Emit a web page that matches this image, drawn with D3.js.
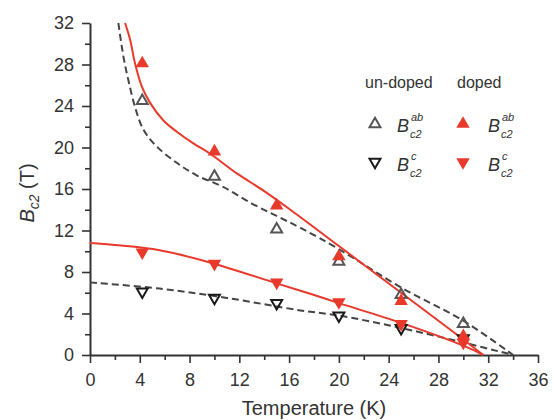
<!DOCTYPE html>
<html><head><meta charset="utf-8">
<script src="https://cdn.jsdelivr.net/npm/d3@7"></script>
<style>body{margin:0;background:#fff;} svg{display:block;font-family:"Liberation Sans",Arial,sans-serif;}</style>
</head><body>
<svg id="chart" width="554" height="420"></svg>
<script>
// ---- data ----
const temps = [4.2, 10, 15, 20, 25, 30];
const undopedAb = [24.6, 17.3, 12.2, 9.1, 5.9, 3.1];
const dopedAb   = [28.2, 19.7, 14.5, 9.6, 5.3, 1.9];
const undopedC  = [6.0, 5.4, 4.9, 3.7, 2.5, 1.5];
const dopedC    = [9.8, 8.7, 6.9, 5.0, 2.9, 1.1];

// fitted curves
const dopedAbFitT = [2.82, 3.22, 3.62, 4.16, 4.83, 5.9, 7.0, 8.3, 9.66, 11.8, 14, 16.1, 20, 25, 30, 31.6];
const dopedAbFitB = [32, 30.4, 28.1, 25.9, 24.3, 22.6, 21.5, 20.4, 19.4, 17.5, 15.8, 14.0, 10.5, 6.0, 1.5, 0];
const undopedAbFitT = [2.28, 2.68, 3.08, 3.62, 4.3, 5.36, 7.0, 8.6, 10.7, 13, 15, 17, 20, 25, 30, 34];
const undopedAbFitB = [32, 28.8, 26.5, 23.9, 21.7, 20.1, 18.5, 17.3, 16.2, 14.6, 13.4, 12.2, 10.2, 6.5, 3.3, 0];
const dopedCFitT = [0, 2, 5.6, 9.7, 15, 17.7, 20, 25, 30, 31.6];
const dopedCFitB = [10.8, 10.6, 10.1, 8.9, 6.9, 5.9, 5.0, 3.1, 0.9, 0];
const undopedCFitT = [0, 5.6, 11, 16.9, 20, 25, 30, 34];
const undopedCFitB = [7.0, 6.4, 5.5, 4.3, 3.8, 2.6, 1.2, 0];

const xTicks = [0, 4, 8, 12, 16, 20, 24, 28, 32, 36];
const yTicks = [0, 4, 8, 12, 16, 20, 24, 28, 32];
const xMinor = [2, 6, 10, 14, 18, 22, 26, 30, 34];
const yMinor = [2, 6, 10, 14, 18, 22, 26, 30];

// ---- drawing ----
const RED = "#e8392b", DASH = "#454545", AX = "#333";
const svg = d3.select("#chart");
const x = d3.scaleLinear().domain([0, 36]).range([90, 538]);
const y = d3.scaleLinear().domain([0, 32]).range([355, 23]);

// axes
const gx = svg.append("g").attr("transform", "translate(0,355)")
  .call(d3.axisBottom(x).tickValues(xTicks).tickSize(8).tickSizeOuter(0).tickPadding(10));
const gxm = svg.append("g").attr("transform", "translate(0,355)")
  .call(d3.axisBottom(x).tickValues(xMinor).tickSize(5).tickFormat("").tickSizeOuter(0));
const gy = svg.append("g").attr("transform", "translate(90,0)")
  .call(d3.axisLeft(y).tickValues(yTicks).tickSize(8).tickSizeOuter(0).tickPadding(8));
const gym = svg.append("g").attr("transform", "translate(90,0)")
  .call(d3.axisLeft(y).tickValues(yMinor).tickSize(5).tickFormat("").tickSizeOuter(0));
[gx, gxm, gy, gym].forEach(g => {
  g.selectAll("path").attr("stroke", AX).attr("stroke-width", 2);
  g.selectAll("line").attr("stroke", AX).attr("stroke-width", 1.6);
  g.selectAll("text").attr("font-size", 18).attr("fill", AX).attr("font-family", "Liberation Sans, Arial, sans-serif");
});
gxm.select("path").remove(); gym.select("path").remove();

// curves
const zip = (a, b) => a.map((v, i) => [v, b[i]]);
const line = d3.line().x(d => x(d[0])).y(d => y(d[1])).curve(d3.curveCatmullRom.alpha(0.5));

svg.append("path").attr("d", line(zip(undopedAbFitT, undopedAbFitB)))
  .attr("fill", "none").attr("stroke", DASH).attr("stroke-width", 2).attr("stroke-dasharray", "7,4");
svg.append("path").attr("d", line(zip(undopedCFitT, undopedCFitB)))
  .attr("fill", "none").attr("stroke", DASH).attr("stroke-width", 2).attr("stroke-dasharray", "7,4");
svg.append("path").attr("d", line(zip(dopedAbFitT, dopedAbFitB)))
  .attr("fill", "none").attr("stroke", RED).attr("stroke-width", 2);
svg.append("path").attr("d", line(zip(dopedCFitT, dopedCFitB)))
  .attr("fill", "none").attr("stroke", RED).attr("stroke-width", 2);

// markers
const triOpen = d3.symbol().type(d3.symbolTriangle).size(52);
const triFill = d3.symbol().type(d3.symbolTriangle).size(78);
function markers(vals, sym, up, fill, stroke) {
  svg.append("g").selectAll("path").data(zip(temps, vals)).join("path")
    .attr("d", sym())
    .attr("transform", d => `translate(${x(d[0])},${y(d[1]) + (up ? 1 : -1)}) rotate(${up ? 0 : 180})`)
    .attr("fill", fill).attr("stroke", stroke).attr("stroke-width", stroke === "none" ? 0 : 2);
}
markers(undopedC, triOpen, false, "none", "#1a1a1a");
markers(undopedAb, triOpen, true, "none", "#555");
markers(dopedC, triFill, false, RED, "none");
markers(dopedAb, triFill, true, RED, "none");

// axis titles
svg.append("text").attr("x", 314).attr("y", 415).attr("text-anchor", "middle")
  .attr("font-size", 20).attr("fill", AX).text("Temperature (K)");
const yt = svg.append("text").attr("transform", "translate(34,193) rotate(-90)")
  .attr("text-anchor", "middle").attr("font-size", 20).attr("fill", AX);
yt.append("tspan").attr("font-style", "italic").text("B");
yt.append("tspan").attr("font-style", "italic").attr("font-size", 14).attr("dy", 5).text("c2");
yt.append("tspan").attr("dy", -5).text(" (T)");

// legend
const lg = svg.append("g").attr("fill", AX);
lg.append("text").attr("x", 365).attr("y", 88).attr("font-size", 16).text("un-doped");
lg.append("text").attr("x", 457).attr("y", 88).attr("font-size", 16).text("doped");
function legSym(cx, cy, sym, up, fill, stroke) {
  lg.append("path").attr("d", sym()).attr("transform", `translate(${cx},${cy}) rotate(${up ? 0 : 180})`)
    .attr("fill", fill).attr("stroke", stroke).attr("stroke-width", stroke === "none" ? 0 : 2);
}
function legLabel(bx, base, sup) {
  lg.append("text").attr("x", bx).attr("y", base).attr("font-size", 18).attr("font-style", "italic").text("B");
  lg.append("text").attr("x", bx + 14).attr("y", base - 11).attr("font-size", 11).attr("font-style", "italic").text(sup);
  lg.append("text").attr("x", bx + 13).attr("y", base + 6).attr("font-size", 11).attr("font-style", "italic").text("c2");
}
legSym(375, 124, triOpen, true, "none", "#555");
legSym(463, 124, triFill, true, RED, "none");
legSym(375, 162, triOpen, false, "none", "#1a1a1a");
legSym(463, 162, triFill, false, RED, "none");
legLabel(397, 132, "ab");
legLabel(488, 132, "ab");
legLabel(397, 171, "c");
legLabel(488, 171, "c");
</script>
</body></html>
